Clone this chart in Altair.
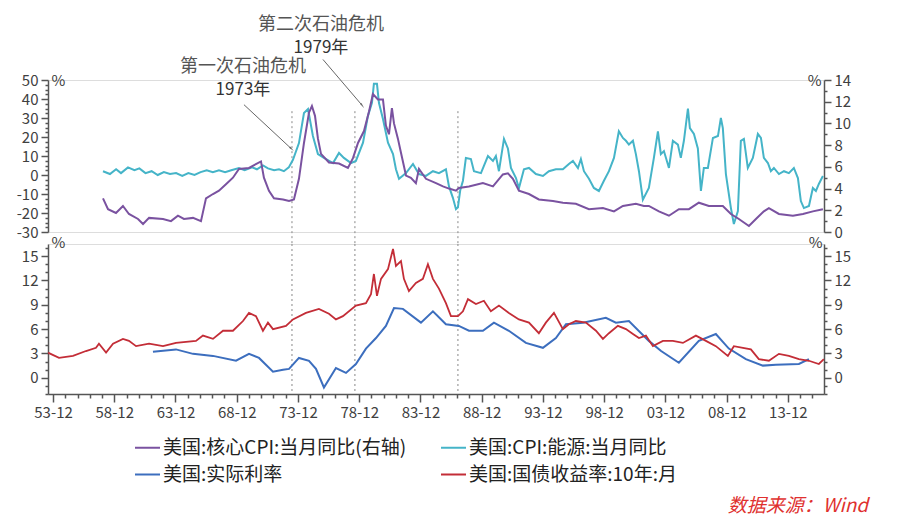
import altair as alt
import pandas as pd

FONT = "Noto Sans CJK SC"

# ---------------- data (decimal year, %) ----------------
energy = [(1958.03, 2), (1958.6, 0.5), (1959.1, 3), (1959.5, 1), (1960.07, 4), (1960.6, 2.5), (1961.0, 3.5),
          (1961.5, 1), (1962.0, 2), (1962.5, 0), (1963.0, 1.5), (1963.5, 0.5), (1964.0, 1), (1964.5, -0.5),
          (1965.0, 1), (1965.5, 0), (1966.0, 1.5), (1966.5, 2.5), (1967.0, 1.5), (1967.5, 2.5), (1968.0, 1.5),
          (1968.5, 2.5), (1969.13, 3.7), (1969.6, 2.5), (1970.2, 4), (1970.6, 3), (1971.09, 5), (1971.5, 3.5),
          (1972.0, 2.5), (1972.4, 3), (1972.8, 2), (1973.2, 4), (1973.54, 8), (1974.03, 16.8), (1974.44, 32.6),
          (1974.77, 34.7), (1975.17, 20.5), (1975.58, 11), (1976.07, 9), (1976.81, 6.3), (1977.3, 11.6),
          (1977.7, 9), (1978.28, 6.3), (1978.68, 7.4), (1979.26, 17), (1979.66, 31), (1979.99, 38), (1980.15, 48),
          (1980.4, 48), (1980.56, 38), (1980.89, 29.5), (1981.3, 17), (1981.71, 11), (1981.95, 3), (1982.2, -2),
          (1982.77, 1), (1983.34, 5.8), (1983.83, 0.5), (1984.4, -0.5), (1984.97, 2), (1985.46, 1), (1986.03, 3),
          (1986.28, -6), (1986.6, -12), (1986.85, -18), (1987.01, -17), (1987.2, -8), (1987.42, -3), (1987.66, 9),
          (1988.07, 8.4), (1988.32, 2), (1988.89, 1), (1989.46, 10), (1989.87, 7.4), (1990.11, 10), (1990.36, 2),
          (1990.77, 19), (1991.09, 14), (1991.34, 3.7), (1991.75, -1.6), (1991.99, -7), (1992.4, 3), (1992.81, 3.7),
          (1993.38, 0.5), (1993.95, -0.5), (1994.44, 2), (1995.01, 3), (1995.58, 3), (1996.07, 5.8), (1996.4, 7.4),
          (1996.81, 3.7), (1997.05, 8.4), (1997.3, 2), (1997.71, -2), (1998.11, -6.8), (1998.52, -8.4),
          (1998.93, -3), (1999.34, 2), (1999.75, 9), (2000.15, 23), (2000.48, 19.5), (2000.73, 18), (2000.97, 16),
          (2001.3, 18), (2001.54, 11), (2001.79, 2), (2002.11, -13), (2002.6, -6.8), (2003.01, 9), (2003.34, 23),
          (2003.58, 11), (2003.83, 12.6), (2004.24, 3.7), (2004.56, 18), (2004.97, 16), (2005.21, 9), (2005.46, 18),
          (2005.79, 35), (2005.95, 24.7), (2006.28, 21.6), (2006.6, 14), (2006.85, -8.4), (2007.09, 3.7),
          (2007.42, 3.7), (2007.83, 19.5), (2008.24, 20.5), (2008.48, 30), (2008.64, 24.7), (2008.89, 0.5),
          (2009.3, -17.4), (2009.54, -25.8), (2009.87, -19), (2010.11, 18), (2010.36, 19), (2010.68, 3.7),
          (2011.09, 9), (2011.5, 21.6), (2011.75, 19.5), (2011.99, 9), (2012.32, 6.3), (2012.56, 2), (2012.81, 3.7),
          (2013.22, 0.5), (2013.63, 2), (2014.03, 1), (2014.44, 3.7), (2014.77, -1.6), (2015.01, -13.7),
          (2015.26, -17.4), (2015.67, -16.3), (2015.99, -6.8), (2016.24, -8.4), (2016.48, -4.7), (2016.81, -0.5)]

core = [(1958.03, 3.1), (1958.44, 2.1), (1959.09, 1.75), (1959.66, 2.4), (1960.15, 1.66), (1960.89, 1.2),
        (1961.3, 0.74), (1961.79, 1.3), (1962.93, 1.2), (1963.58, 1.0), (1964.15, 1.5), (1964.64, 1.2),
        (1965.38, 1.3), (1966.03, 1.0), (1966.44, 3.1), (1967.01, 3.5), (1967.5, 3.8), (1968.07, 4.4),
        (1968.64, 5.0), (1969.13, 5.8), (1969.95, 5.9), (1970.93, 6.5), (1971.17, 5.0), (1971.58, 3.8),
        (1971.99, 3.1), (1972.73, 3.0), (1973.22, 2.85), (1973.62, 3.0), (1974.03, 4.9), (1974.44, 8.2),
        (1974.85, 11), (1975.09, 11.6), (1975.34, 10.7), (1975.58, 8.6), (1975.83, 7.2), (1976.48, 6.4),
        (1977.3, 6.3), (1978.03, 5.9), (1978.44, 6.8), (1978.85, 8.2), (1979.34, 9.3), (1979.75, 11.1),
        (1980.07, 12.7), (1980.48, 12.2), (1980.89, 12.2), (1981.13, 9.8), (1981.38, 9.0), (1981.62, 11.4),
        (1981.79, 10), (1982.11, 8.6), (1982.36, 7.3), (1982.77, 5.2), (1983.17, 5.0), (1983.58, 4.5),
        (1983.83, 5.8), (1984.4, 4.9), (1985.22, 4.5), (1985.79, 4.2), (1986.28, 4.0), (1986.85, 3.8),
        (1987.09, 4.05), (1987.91, 4.2), (1989.05, 4.5), (1989.87, 4.2), (1990.68, 5.3), (1991.09, 5.4),
        (1991.5, 4.9), (1991.99, 3.8), (1992.81, 3.5), (1993.62, 3.0), (1994.77, 2.85), (1995.58, 2.7),
        (1996.64, 2.6), (1997.71, 2.1), (1998.85, 2.2), (1999.75, 1.9), (2000.48, 2.4), (2001.54, 2.6),
        (2002.19, 2.4), (2002.6, 2.4), (2003.42, 1.9), (2004.24, 1.5), (2005.05, 2.1), (2005.87, 2.1),
        (2006.68, 2.7), (2007.5, 2.4), (2008.64, 2.4), (2009.3, 1.66), (2009.95, 1.2), (2010.77, 0.55),
        (2011.34, 1.2), (2011.99, 1.9), (2012.4, 2.2), (2013.22, 1.66), (2014.36, 1.5), (2015.18, 1.66),
        (2015.99, 1.9), (2016.81, 2.1)]

yield10 = [(1953.54, 3.1), (1954.44, 2.45), (1955.58, 2.7), (1956.64, 3.3), (1957.46, 3.7), (1957.7, 4.2),
           (1958.28, 3.1), (1958.85, 4.2), (1959.66, 4.8), (1960.15, 4.55), (1960.73, 3.9), (1961.79, 4.2),
           (1962.93, 3.9), (1963.99, 4.3), (1965.62, 4.55), (1966.19, 5.2), (1967.01, 4.8), (1967.83, 5.8),
           (1968.64, 5.8), (1969.46, 7.0), (1969.95, 8.0), (1970.52, 7.6), (1971.09, 5.8), (1971.5, 6.8),
           (1971.91, 6.0), (1972.97, 6.4), (1973.54, 7.2), (1974.6, 8.0), (1975.66, 8.5), (1976.48, 7.9),
           (1977.05, 7.2), (1977.62, 7.6), (1978.68, 8.9), (1979.5, 9.2), (1979.91, 10.3), (1980.15, 12.8),
           (1980.4, 10.1), (1980.73, 12.2), (1981.3, 13.4), (1981.71, 15.9), (1981.95, 13.8), (1982.36, 14.4),
           (1982.6, 12.2), (1983.01, 10.7), (1983.58, 11.7), (1984.15, 12.2), (1984.56, 14.0), (1984.97, 12.2),
           (1985.46, 11.0), (1986.03, 9.2), (1986.44, 7.6), (1987.01, 7.6), (1987.42, 8.2), (1987.83, 9.7),
           (1988.48, 9.1), (1989.13, 9.5), (1989.7, 8.2), (1990.36, 8.9), (1991.17, 8.0), (1991.99, 7.2),
           (1992.81, 6.8), (1993.62, 5.5), (1994.19, 6.8), (1994.85, 8.0), (1995.58, 6.0), (1996.07, 6.6),
           (1996.64, 7.0), (1997.46, 6.8), (1998.28, 5.8), (1998.85, 4.8), (1999.34, 5.5), (2000.07, 6.4),
           (2000.73, 6.0), (2001.3, 5.4), (2001.79, 4.9), (2002.36, 5.2), (2002.93, 3.9), (2003.75, 4.55),
           (2004.56, 4.55), (2005.38, 4.3), (2006.44, 5.2), (2007.26, 4.55), (2008.07, 3.9), (2009.05, 2.7),
           (2009.54, 3.9), (2010.28, 3.7), (2010.93, 3.5), (2011.58, 2.3), (2012.4, 2.1), (2013.22, 2.95),
           (2014.03, 2.7), (2014.85, 2.3), (2015.67, 2.1), (2016.48, 1.7), (2016.89, 2.3)]

real = [(1962.11, 3.2), (1963.99, 3.5), (1965.38, 2.95), (1967.01, 2.7), (1968.89, 2.1), (1969.95, 2.95),
        (1970.77, 2.45), (1971.91, 0.74), (1972.73, 0.98), (1973.22, 1.1), (1974.03, 2.45), (1974.85, 2.1),
        (1975.42, 1.1), (1976.07, -1.2), (1977.05, 1.2), (1977.87, 0.6), (1978.68, 1.7), (1979.5, 3.6),
        (1980.32, 4.9), (1981.13, 6.4), (1981.79, 8.6), (1982.52, 8.5), (1983.99, 6.8), (1984.97, 8.2),
        (1986.03, 6.6), (1987.09, 6.4), (1987.91, 5.8), (1989.05, 5.8), (1989.95, 6.8), (1991.17, 5.8),
        (1992.56, 4.3), (1993.95, 3.7), (1995.01, 4.9), (1995.83, 6.6), (1997.22, 6.8), (1999.09, 7.4),
        (1999.91, 6.8), (2000.97, 7.0), (2002.6, 4.55), (2003.6, 3.3), (2005.05, 1.85), (2006.68, 4.55),
        (2008.07, 5.4), (2009.13, 3.6), (2010.52, 2.3), (2011.91, 1.5), (2012.97, 1.6), (2014.85, 1.7),
        (2015.67, 2.3)]

crisis_t = [1973.46, 1978.6, 1987.01]

ann_label_t = [1969.46, 1975.83]
ann_label_v = [56.8, 79.0]
ann_label_text = ["第一次石油危机", "第二次石油危机"]
ann_year_v = [44.6, 66.6]
ann_year_text = ["1973年", "1979年"]

arrows = [(1969.54, 37.0, 1973.38, 14.0, 133), (1975.99, 60.8, 1979.17, 36.8, 143)]

# legend entries are laid out column by column: core, real | energy, 10y
names = ["美国:核心CPI:当月同比(右轴)", "美国:实际利率", "美国:CPI:能源:当月同比", "美国:国债收益率:10年:月"]
colors = ["#7A52A0", "#3C6EBE", "#45B4C8", "#C32D37"]
source_text = "数据来源：Wind"

# ---------------- frames ----------------
def frame(pairs, name):
    return pd.DataFrame({"t": [p[0] for p in pairs], "v": [p[1] for p in pairs], "s": name})

core_df = frame(core, names[0])
real_df = frame(real, names[1])
energy_df = frame(energy, names[2])
yield_df = frame(yield10, names[3])
crisis_df = pd.DataFrame({"t": crisis_t})
label_df = pd.DataFrame({"t": ann_label_t, "v": ann_label_v, "txt": ann_label_text})
year_df = pd.DataFrame({"t": ann_label_t, "v": ann_year_v, "txt": ann_year_text})
arrow_df = pd.DataFrame({"t": [a[0] for a in arrows], "v": [a[1] for a in arrows],
                         "t2": [a[2] for a in arrows], "v2": [a[3] for a in arrows],
                         "a": [a[4] for a in arrows]})
source_df = pd.DataFrame({"t": [2020.5], "v": [-15.8], "txt": [source_text]})

W, H_TOP, H_BOT = 776, 152, 150
XDOM = [1953.54, 2016.9]
color_scale = alt.Scale(domain=names, range=colors)

style = dict(domainColor="#555", domainWidth=1.5, tickColor="#555", tickWidth=1.5,
             labelColor="#404040", labelFont=FONT, labelFontSize=15, labelPadding=3,
             labelOverlap=False, labelFlush=False, grid=False,
             titleFont=FONT, titleFontSize=15, titleFontWeight="normal", titleColor="#404040",
             titleAngle=0, titleBaseline="middle")


def cond(test, major, minor):
    return {"condition": {"test": test, "value": major}, "value": minor}


x_scale = alt.Scale(domain=XDOM, nice=False, zero=False)
x_none = alt.X("t:Q", scale=x_scale, axis=None)

xticks = [y + 0.95 for y in range(1953, 2016)]
x_major = "(floor(datum.value) - 1953) % 5 == 0"
x_axis = alt.Axis(values=xticks, title=None,
                  labelExpr=x_major + " ? slice(toString(floor(datum.value)), 2) + '-12' : ''",
                  tickSize=cond(x_major, 8, 4), **style)
x_bot = alt.X("t:Q", scale=x_scale, axis=x_axis)

tl_major = "datum.value % 10 == 0"
top_left_axis = alt.Axis(orient="left", values=[-30 + 2.5 * i for i in range(33)],
                         labelExpr=tl_major + " ? toString(datum.value) : ''",
                         tickSize=cond(tl_major, 7, 3), title="%", titleX=3, titleY=0,
                         titleAlign="left", **style)
tr_major = "datum.value % 2 == 0"
top_right_axis = alt.Axis(orient="right", values=list(range(0, 15)),
                          labelExpr=tr_major + " ? toString(datum.value) : ''",
                          tickSize=cond(tr_major, 7, 3), title="%", titleX=-3, titleY=0,
                          titleAlign="right", **style)
b_major = "datum.value >= 0 && datum.value % 3 == 0"
bot_left_axis = alt.Axis(orient="left", values=list(range(-2, 17)),
                         labelExpr=b_major + " ? toString(datum.value) : ''",
                         tickSize=cond(b_major, 7, 3), title="%", titleX=3, titleY=-2,
                         titleAlign="left", **style)
bot_right_axis = alt.Axis(orient="right", values=list(range(-2, 17)),
                          labelExpr=b_major + " ? toString(datum.value) : ''",
                          tickSize=cond(b_major, 7, 3), title="%", titleX=-2, titleY=-2,
                          titleAlign="right", **style)

e_scale = alt.Scale(domain=[-30, 50], nice=False, zero=False)
c_scale = alt.Scale(domain=[0, 14], nice=False, zero=False)
b_scale = alt.Scale(domain=[-2, 16.5], nice=False, zero=False)

# ---------------- top panel ----------------
energy_line = alt.Chart(energy_df).mark_line(strokeWidth=2, clip=True).encode(
    x=x_none, y=alt.Y("v:Q", scale=e_scale, axis=top_left_axis),
    color=alt.Color("s:N", scale=color_scale, legend=None), order="t:Q")

top_rules = alt.Chart(crisis_df).mark_rule(color="#888", strokeWidth=1, strokeDash=[2, 3]).encode(
    x=x_none, y=alt.datum(33.6, scale=e_scale, axis=top_left_axis), y2=alt.datum(-36.3))

arrow_lines = alt.Chart(arrow_df).mark_rule(color="#666", strokeWidth=1).encode(
    x=x_none, y=alt.Y("v:Q", scale=e_scale, axis=top_left_axis), x2="t2:Q", y2="v2:Q")

arrow_heads = alt.Chart(arrow_df).mark_point(shape="wedge", filled=True, size=45, color="#666", opacity=1).encode(
    x=alt.X("t2:Q", scale=x_scale, axis=None), y=alt.Y("v2:Q", scale=e_scale, axis=top_left_axis),
    angle=alt.Angle("a:Q", scale=None))

label_text = alt.Chart(label_df).mark_text(font=FONT, fontSize=18, color="#555").encode(
    x=x_none, y=alt.Y("v:Q", scale=e_scale, axis=top_left_axis), text="txt:N")

year_text = alt.Chart(year_df).mark_text(font=FONT, fontSize=17, color="#333").encode(
    x=x_none, y=alt.Y("v:Q", scale=e_scale, axis=top_left_axis), text="txt:N")

core_line = alt.Chart(core_df).mark_line(strokeWidth=2, clip=True).encode(
    x=x_none, y=alt.Y("v:Q", scale=c_scale, axis=top_right_axis),
    color=alt.Color("s:N", scale=color_scale, legend=None), order="t:Q")

top = alt.layer(
    alt.layer(top_rules, energy_line, arrow_lines, arrow_heads, label_text, year_text),
    core_line,
).resolve_scale(y="independent").properties(width=W, height=H_TOP)

# ---------------- bottom panel ----------------
legend = alt.Legend(orient="none", legendX=86, legendY=190, columns=2, title=None,
                    symbolType="stroke", symbolSize=625, symbolStrokeWidth=2,
                    labelFont=FONT, labelFontSize=19, labelColor="#222", labelLimit=0,
                    rowPadding=3, columnPadding=30, labelOffset=2)

bot_rules = alt.Chart(crisis_df).mark_rule(color="#888", strokeWidth=1, strokeDash=[2, 3]).encode(
    x=x_bot, y=alt.datum(16.5, scale=b_scale, axis=bot_left_axis), y2=alt.datum(-2))

real_line = alt.Chart(real_df).mark_line(strokeWidth=2, clip=True).encode(
    x=x_bot, y=alt.Y("v:Q", scale=b_scale, axis=bot_left_axis),
    color=alt.Color("s:N", scale=color_scale, legend=legend), order="t:Q")

src = alt.Chart(source_df).mark_text(font=FONT, fontSize=19, fontStyle="italic", color="#E0312F",
                                     align="right").encode(
    x=x_bot, y=alt.Y("v:Q", scale=b_scale, axis=bot_left_axis), text="txt:N")

yield_line = alt.Chart(yield_df).mark_line(strokeWidth=1.8, clip=True).encode(
    x=x_bot, y=alt.Y("v:Q", scale=b_scale, axis=bot_right_axis),
    color=alt.Color("s:N", scale=color_scale, legend=legend), order="t:Q")

bottom = alt.layer(
    alt.layer(bot_rules, real_line, src),
    yield_line,
).resolve_scale(y="independent").properties(width=W, height=H_BOT)

chart = alt.vconcat(top, bottom, spacing=12, bounds="flush").resolve_scale(
    y="independent", color="independent"
).properties(
    padding={"left": 7, "top": 7, "right": 5, "bottom": 0}
).configure_view(strokeWidth=0).configure(font=FONT, background="white")

chart.save("out.html", embed_options={"renderer": "svg", "actions": False})
